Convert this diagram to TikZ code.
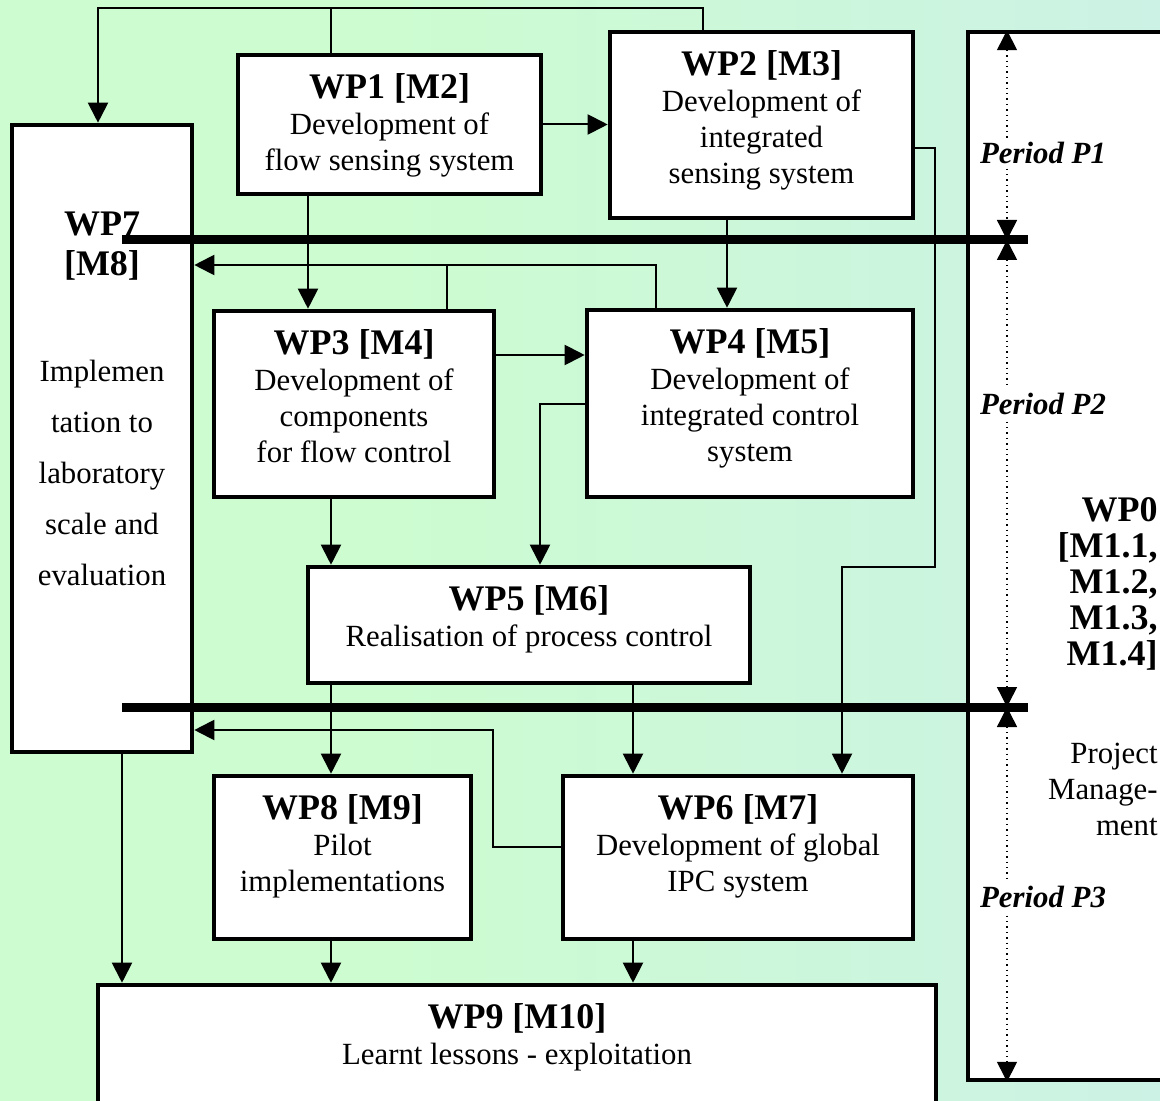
\documentclass[tikz,border=0pt]{standalone}
\usepackage{fontspec}
\setmainfont{Liberation Serif}
\usetikzlibrary{arrows.meta,positioning,fit}
\definecolor{bggreen}{RGB}{204,252,208}
\definecolor{bgcyan}{RGB}{204,238,236}
\pgfdeclarehorizontalshading{bgshade}{100bp}{color(0bp)=(bggreen); color(42bp)=(bggreen); color(86bp)=(bgcyan); color(100bp)=(bgcyan)}
\tikzset{>={Triangle[length=10pt,width=10pt]}}
\newcommand\wptitle[1]{{\fontsize{18}{19}\selectfont\bfseries #1}}

\begin{document}
\begin{tikzpicture}[x=0.5pt,y=-0.5pt,
  wpbox/.style={draw,line width=2.3pt,fill=white,inner sep=0pt},
  wptext/.style={align=center,inner sep=0pt,font=\fontsize{15.4}{18}\selectfont},
  link/.style={line width=1pt},
  period/.style={line width=4.5pt},
  spanline/.style={dotted,line width=0.7pt,<->},
  periodlabel/.style={fill=white,inner sep=2pt,font=\fontsize{15.4}{18}\selectfont\bfseries\itshape}]

  \useasboundingbox (0,0) rectangle (1160,1101);
  \clip (0,0) rectangle (1160,1101);
  \fill[shading=bgshade] (0,0) rectangle (1160,1101);

  % work packages
  \node[wpbox,fit={(238,55) (541,194)}] (wp1) {};
  \node[wpbox,fit={(610,32) (913,218)}] (wp2) {};
  \node[wpbox,fit={(12,125) (192,752)}] (wp7) {};
  \node[wpbox,fit={(214,311) (494,497)}] (wp3) {};
  \node[wpbox,fit={(587,310) (913,497)}] (wp4) {};
  \node[wpbox,fit={(308,567) (750,683)}] (wp5) {};
  \node[wpbox,fit={(214,776) (471,939)}] (wp8) {};
  \node[wpbox,fit={(563,776) (913,939)}] (wp6) {};
  \node[wpbox,fit={(98,985) (936,1130)}] (wp9) {};
  \node[wpbox,line width=1.8pt,fit={(968,32) (1190,1080)}] (wp0) {};

  \node[wptext,below=10pt of wp1.north] (wp1t) {\wptitle{WP1 [M2]}\\Development of\\flow sensing system};
  \node[wptext,below=10pt of wp2.north] (wp2t) {\wptitle{WP2 [M3]}\\Development of\\integrated\\sensing system};
  \node[wptext,below=10pt of wp3.north] (wp3t) {\wptitle{WP3 [M4]}\\Development of\\components\\for flow control};
  \node[wptext,below=10pt of wp4.north] (wp4t) {\wptitle{WP4 [M5]}\\Development of\\integrated control\\system};
  \node[wptext,below=10pt of wp5.north] (wp5t) {\wptitle{WP5 [M6]}\\Realisation of process control};
  \node[wptext,below=10pt of wp8.north] (wp8t) {\wptitle{WP8 [M9]}\\Pilot\\implementations};
  \node[wptext,below=10pt of wp6.north] (wp6t) {\wptitle{WP6 [M7]}\\Development of global\\IPC system};
  \node[wptext,below=10pt of wp9.north] (wp9t) {\wptitle{WP9 [M10]}\\Learnt lessons - exploitation};

  \node[wptext,font=\fontsize{18}{20}\selectfont\bfseries] (wp7t) at (102,246) {WP7\\{}[M8]};
  \node[wptext,font=\fontsize{15.4}{25.5}\selectfont] (wp7b) at (102,473) {Implemen\\tation to\\laboratory\\scale and\\evaluation};

  \node[wptext,align=right,anchor=east,font=\fontsize{18}{18}\selectfont\bfseries] (wp0t) at (1158,584) {WP0\\{}[M1.1,\\M1.2,\\M1.3,\\M1.4]};
  \node[wptext,align=right,anchor=east] (wp0b) at (1158,789) {Project\\Manage-\\ment};

  % links
  \coordinate (bus) at (0,8);
  \draw[link,->] (wp2.north -| 703,0) |- (bus -| 98,0) -- (wp7.north -| 98,0);
  \draw[link] (wp1.north -| 331,0) -- (bus -| 331,0);
  \draw[link,->] (wp1.east) -- (wp2.west |- wp1.east);
  \draw[link,->] (wp1.south -| 308,0) -- (wp3.north -| 308,0);
  \draw[link,->] (wp2.south -| 727,0) -- (wp4.north -| 727,0);
  \draw[link,->] (wp4.north -| 656,0) |- (wp7.east |- 0,265);
  \draw[link] (wp3.north -| 447,0) -- (447,265);
  \draw[link,->] (wp3.east |- 0,355) -- (wp4.west |- 0,355);
  \draw[link,->] (wp4.west |- 0,404) -| (wp5.north -| 540,0);
  \draw[link,->] (wp3.south -| 331,0) -- (wp5.north -| 331,0);
  \draw[link,->] (wp2.east |- 0,148) -| (935,567) -| (wp6.north -| 842,0);
  \draw[link,->] (wp5.south -| 331,0) -- (wp8.north -| 331,0);
  \draw[link,->] (wp5.south -| 633,0) -- (wp6.north -| 633,0);
  \draw[link,->] (wp6.west |- 0,847) -| (493,730) -- (wp7.east |- 0,730);
  \draw[link,->] (wp7.south -| 122,0) -- (wp9.north -| 122,0);
  \draw[link,->] (wp8.south -| 331,0) -- (wp9.north -| 331,0);
  \draw[link,->] (wp6.south -| 633,0) -- (wp9.north -| 633,0);

  % periods
  \coordinate (m1) at (1007,240);
  \coordinate (m2) at (1007,707);
  \draw[period] (m1 -| 122,0) -- (m1 -| 1028,0);
  \draw[period] (m2 -| 122,0) -- (m2 -| 1028,0);

  \draw[spanline] (wp0.north -| m1) -- (m1);
  \draw[spanline] (m1) -- (m2);
  \draw[spanline] (m2) -- (wp0.south -| m2);

  \node[periodlabel] (p1) at (1043,153) {Period P1};
  \node[periodlabel] (p2) at (1043,404) {Period P2};
  \node[periodlabel] (p3) at (1043,897) {Period P3};

\end{tikzpicture}
\end{document}
